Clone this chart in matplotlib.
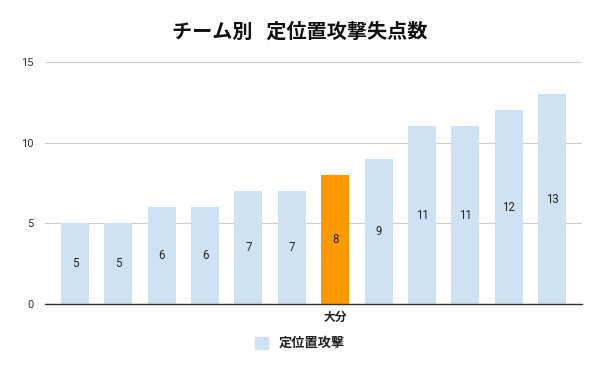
import matplotlib
matplotlib.use("Agg")
import matplotlib.pyplot as plt
from matplotlib.patches import Patch

plt.rcParams['font.family'] = ['Roboto', 'Noto Sans CJK JP', 'DejaVu Sans']

teams = ['', '', '', '', '', '', '大分', '', '', '', '', '']
values = [5, 5, 6, 6, 7, 7, 8, 9, 11, 11, 12, 13]
highlight = '大分'
series_name = '定位置攻撃'
title = 'チーム別   定位置攻撃失点数'
yticks = [0, 5, 10, 15]

base_color = '#cfe2f3'
hi_color = '#ff9900'

fig = plt.figure(figsize=(6, 3.71), dpi=100)
ax = fig.add_axes([0.075, 0.1806, 0.895, 0.6525])

x = list(range(len(values)))
colors = [hi_color if t == highlight else base_color for t in teams]
bars = ax.bar(x, values, width=0.645, color=colors, zorder=2)

for xi, v in zip(x, values):
    ax.text(xi, v / 2, str(v), ha='center', va='center', fontsize=8.3,
            color='#222222', zorder=3)

ax.set_xlim(-0.69, len(values) - 1 + 0.69)
ax.set_ylim(0, 15)
ax.set_yticks(yticks)
ax.set_yticklabels([str(t) for t in yticks], fontsize=8, color='#333333')
ax.tick_params(axis='y', length=0, pad=8)
ax.set_xticks(x)
ax.set_xticklabels(teams, fontsize=8.5, fontweight='bold',
                   family=['Noto Sans CJK JP', 'DejaVu Sans'], color='#222222')
ax.tick_params(axis='x', length=0, pad=5)
ax.grid(axis='y', color='#cccccc', linewidth=0.8, zorder=0)
for s in ['top', 'right', 'left']:
    ax.spines[s].set_visible(False)
ax.spines['bottom'].set_color('#333333')
ax.spines['bottom'].set_linewidth(1.0)
ax.spines['bottom'].set_zorder(4)

fig.text(0.5, 0.916, title, ha='center', va='center', fontsize=14.5,
         fontweight='bold', family=['Noto Sans CJK JP', 'DejaVu Sans'],
         color='#111111')

leg = fig.legend(handles=[Patch(color=base_color, label=series_name)],
                 loc='center', bbox_to_anchor=(0.5, 0.075), frameon=False,
                 handlelength=1.0, handleheight=1.0, handletextpad=0.8,
                 prop={'family': ['Noto Sans CJK JP', 'DejaVu Sans'],
                       'weight': 'bold', 'size': 9.5})
for t in leg.get_texts():
    t.set_color('#222222')

fig.savefig('out.png', dpi=100)
